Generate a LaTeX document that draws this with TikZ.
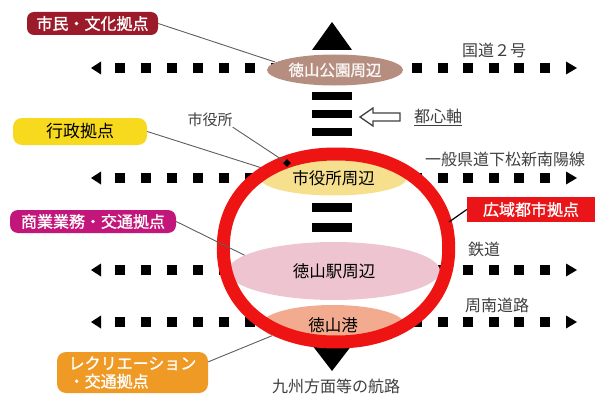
\documentclass[tikz,border=0pt]{standalone}
\usepackage{fontspec}
\usetikzlibrary{shapes.geometric}
\newfontfamily\jp{Noto Sans CJK JP}
\newfontfamily\jpb[FakeBold=1.2]{Noto Sans CJK JP}
\newcommand\myfs[1]{\fontsize{#1}{#1}\selectfont}
\definecolor{ringred}{HTML}{EE1414}
\definecolor{shiminred}{HTML}{9B1B2B}
\definecolor{gyoseiyel}{HTML}{F7DA1E}
\definecolor{shogyomag}{HTML}{C2167A}
\definecolor{recreor}{HTML}{EF9A25}
\definecolor{koikired}{HTML}{EA1519}
\definecolor{koenbrown}{HTML}{B68E7F}
\definecolor{yakuyel}{HTML}{F6E08E}
\definecolor{ekipink}{HTML}{EEC4D1}
\definecolor{minatosal}{HTML}{F2AB8E}
\definecolor{labgray}{HTML}{3F3F3F}
\definecolor{leadgray}{HTML}{5E5E5E}
\begin{document}
\begin{tikzpicture}[x=1pt,y=-1pt,
  road/.style={line width=10pt,dash pattern=on 10pt off 16pt},
  roadr/.style={line width=10pt,dash pattern=on 10pt off 15.6pt},
  bars/.style={line width=40pt},
  oval/.style={ellipse,inner sep=0},
  lbox/.style={inner sep=0,text=white,font=\jpb\myfs{16}},
  glabel/.style={inner sep=0,text=labgray,font=\jp\myfs{16}},
  ctext/.style={font=\jp\myfs{16.5},text=black},
  leader/.style={draw=leadgray,line width=0.9pt}]
\useasboundingbox (0,0) rectangle (597,396);
\fill[white] (0,0) rectangle (597,396);

% roads
\foreach \yy in {68,178,270,322}{
  \draw[road] (115,\yy) -- (333,\yy);
  \draw[roadr] (550,\yy) -- (333,\yy);
  \fill (91,\yy) -- (101,\yy-6.5) -- (101,\yy+6.5) -- cycle;
  \fill (577,\yy) -- (566,\yy-6.5) -- (566,\yy+6.5) -- cycle;
}

% central axis
\draw[bars,dash pattern=on 8pt off 10pt] (332,92) -- (332,138);
\draw[bars,dash pattern=on 9pt off 11pt] (332,203) -- (332,235);
\fill (332,22) -- (352,50) -- (312,50) -- cycle;
\fill (332,371) -- (352,345) -- (312,345) -- cycle;

% label boxes
\node[lbox,fill=shiminred,rounded corners=7pt,minimum width=131pt,minimum height=23pt] (shimin) at (92.5,23.5) {市民・文化拠点};
\node[inner sep=0,fill=gyoseiyel,rounded corners=9pt,minimum width=134pt,minimum height=27pt,font=\jp\myfs{17}] (gyosei) at (80,131.5) {行政拠点};
\node[lbox,fill=shogyomag,rounded corners=8pt,minimum width=166pt,minimum height=23pt] (shogyo) at (93,221.5) {商業業務・交通拠点};
\node[lbox,fill=recreor,rounded corners=9pt,minimum width=151pt,minimum height=41pt,align=left] (recre) at (132.5,372.5) {レクリエーション\\[2pt]・交通拠点};
\node[lbox,fill=koikired,minimum width=128pt,minimum height=25pt] (koiki) at (531,209.5) {広域都市拠点};

% leaders behind
\coordinate (koenL) at (275,62);
\coordinate (yakuL) at (262,168);
\draw[leader] (shimin.east) -- (koenL);
\draw[leader] (gyosei.east) -- (yakuL);

% ovals
\node[oval,fill=koenbrown,minimum width=136pt,minimum height=31pt,text=white!92!koenbrown,font=\jpb\myfs{15.5}] (koen) at (335,70) {徳山公園周辺};
\node[oval,fill=yakuyel,minimum width=147pt,minimum height=35pt,ctext] (yakushu) at (333.5,178) {市役所周辺};
\node[oval,fill=ekipink,minimum width=212pt,minimum height=58pt,ctext] (eki) at (334,271) {徳山駅周辺};
\node[oval,fill=minatosal,minimum width=144pt,minimum height=40pt,ctext] (minato) at (333,325) {徳山港};

% red ring
\draw[ringred,line width=13pt] plot[variable=\t,domain=0.5:357.5,samples=120]
  ({336+112.7*cos(\t)*abs(cos(\t))^(-0.07)},{248+94*sin(\t)*abs(sin(\t))^(-0.07)}) -- cycle;
\coordinate (ringE) at (449,222);

% leaders on top
\node[glabel,font=\jp\myfs{15}] (yakusho) at (210,120) {市役所};
\node[diamond,fill=black,inner sep=0,minimum size=8pt] (yk) at (287,163) {};
\draw[leader] (yakusho.south east) -- (yk);
\draw[leader] (shogyo.east) -- (eki.170);
\draw[leader] (recre.8) -- (minato.190);
\draw[line width=1.2pt] (ringE) -- (koiki.west);

% hollow arrow and labels
\draw[draw=labgray,line width=1.3pt,fill=white] (360,117) -- (373,108) -- (373,113) -- (400,113) -- (400,121) -- (373,121) -- (373,126) -- cycle;
\node[glabel] (toshin) at (438,117) {\underline{都心軸}};
\node[glabel] (kokudo) at (494,50) {国道２号};
\node[glabel] (kendo) at (505,159) {一般県道下松新南陽線};
\node[glabel] (tetsudo) at (484,249) {鉄道};
\node[glabel] (shunan) at (497,305) {周南道路};
\node[glabel] (kouro) at (336,386) {九州方面等の航路};
\end{tikzpicture}
\end{document}
